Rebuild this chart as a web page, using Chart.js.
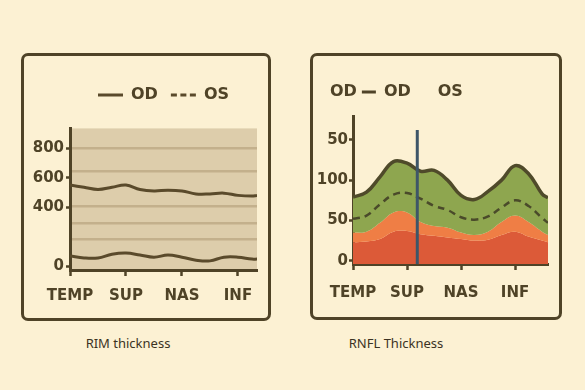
<!DOCTYPE html>
<html>
<head>
<meta charset="utf-8">
<script src="https://cdn.jsdelivr.net/npm/chart.js@4/dist/chart.umd.min.js"></script>
<style>
  html, body { margin: 0; padding: 0; background: #fcf1d3; }
  body { width: 585px; height: 390px; position: relative; overflow: hidden; }
  .panel { position: absolute; box-sizing: border-box; border: 3px solid #4f4327; border-radius: 7px; }
  .wrap { position: absolute; }
  .caption { position: absolute; font-family: "Noto Sans", sans-serif; font-size: 13px; color: #3b3323; transform: translateX(-50%); white-space: nowrap; }
</style>
</head>
<body>
<div class="panel" style="left:21px;top:53px;width:250px;height:268px"></div>
<div class="panel" style="left:310px;top:53px;width:252px;height:267px"></div>
<div class="wrap" style="left:22px;top:53px;width:280px;height:267px"><canvas id="rimChart"></canvas></div>
<div class="wrap" style="left:303px;top:53px;width:259px;height:267px"><canvas id="rnflChart"></canvas></div>
<div class="caption" style="left:128px;top:334px">RIM thickness</div>
<div class="caption" style="left:396px;top:334px">RNFL Thickness</div>

<script>
// --- Data
const sectors = ["TEMP", "SUP", "NAS", "INF"];

// RIM thickness (left)
const rimX = [0, 0.25, 0.5, 0.75, 1, 1.25, 1.5, 1.75, 2, 2.25, 2.5, 2.75, 3, 3.25, 3.34];
const rimOD = [550, 535, 520, 535, 550, 520, 510, 515, 510, 490, 490, 495, 480, 475, 480];
const rimOS = [68, 55, 55, 80, 88, 75, 60, 75, 60, 40, 35, 60, 60, 47, 47];
const rimTicks = [0, 400, 600, 800];

// RNFL thickness (right)
const rnflX = [0, 0.25, 0.5, 0.75, 1, 1.25, 1.5, 1.75, 2, 2.25, 2.5, 2.75, 3, 3.25, 3.5, 3.61];
const rnflOD = [79, 85, 104, 123, 121, 111, 112, 100, 81, 76, 86, 100, 118, 108, 83, 78];
const rnflOS = [52, 56, 70, 82, 84, 77, 68, 63, 54, 51, 55, 66, 75, 68, 53, 47];
const rnflMid = [35, 36, 47, 60, 60, 48, 43, 41, 35, 32, 36, 48, 56, 48, 36, 32];
const rnflLow = [23, 24, 27, 36, 37, 33, 31, 29, 27, 25, 26, 32, 36, 30, 25, 23];
const rnflTicks = [0, 50, 100, 150];
const rnflTickLabels = ["0", "50", "100", "50"];
const markerX = 1.19;
const markerY = [-4, 162];

const DARK = "#4f4327";
const FONT = "DejaVu Sans";

const pts = (xs, ys) => xs.map((x, i) => ({ x, y: ys[i] }));

// tan plot background
const plotBg = {
  id: "plotBg",
  beforeDraw(chart, args, opts) {
    if (!opts.color) return;
    const { ctx, chartArea: a } = chart;
    ctx.save();
    ctx.fillStyle = opts.color;
    ctx.fillRect(a.left, a.top, a.right - a.left, a.bottom - a.top);
    ctx.restore();
  }
};
Chart.register(plotBg);

function xAxis(max, pad, h) {
  return {
    type: "linear", min: 0, max: max,
    afterBuildTicks: s => { s.ticks = sectors.map((_, i) => ({ value: i })); },
    afterFit: s => { s.height = h; },
    ticks: {
      color: DARK, padding: pad, maxRotation: 0, autoSkip: false,
      font: { family: FONT, size: 15, weight: "bold" },
      callback: v => sectors[v]
    },
    grid: { drawOnChartArea: false, color: DARK, tickLength: 6, tickWidth: 2.5 },
    border: { color: DARK, width: 3 }
  };
}

// empty subtitle used as a gap between legend and plot
function spacer(h) {
  return { display: true, text: "", weight: 500, font: { size: 2 }, padding: { top: 0, bottom: h } };
}

// ------------------------------------------
// RIM THICKNESS
// ------------------------------------------
new Chart(document.getElementById("rimChart"), {
  type: "line",
  data: {
    datasets: [
      { label: "OD", data: pts(rimX, rimOD), borderColor: "#5a4a2b", borderWidth: 3, tension: 0.4, pointRadius: 0, fill: false },
      { label: "OS", data: pts(rimX, rimOS), borderColor: "#5a4a2b", borderWidth: 3, tension: 0.4, pointRadius: 0, fill: false }
    ]
  },
  options: {
    responsive: true, maintainAspectRatio: false, animation: false,
    layout: { padding: { top: 21, right: 45, bottom: 10, left: 0 } },
    plugins: {
      plotBg: { color: "#ddcdab" },
      tooltip: { enabled: false },
      subtitle: spacer(13),
      legend: {
        fullSize: false,
        labels: {
          color: DARK, padding: 13, usePointStyle: true, pointStyleWidth: 25,
          font: { family: FONT, size: 16, weight: "bold" },
          generateLabels: () => [
            { text: "OD", pointStyle: "line", strokeStyle: "#5a4a2b", fillStyle: "transparent", lineWidth: 3, lineDash: [], datasetIndex: 0, fontColor: DARK },
            { text: "OS", pointStyle: "line", strokeStyle: "#5a4a2b", fillStyle: "transparent", lineWidth: 3, lineDash: [6, 3.5], datasetIndex: 1, fontColor: DARK }
          ]
        }
      }
    },
    scales: {
      x: xAxis(3.34, 11, 40),
      yGrid: {
        type: "linear", position: "left", min: -27, max: 935,
        afterBuildTicks: s => { s.ticks = [185, 290, 405, 645, 800].map(v => ({ value: v })); },
        afterFit: s => { s.width = 0; },
        ticks: { display: false },
        grid: { color: "#c3b08c", lineWidth: 2.5, drawTicks: false },
        border: { display: false }
      },
      y: {
        type: "linear", position: "left", min: -27, max: 935,
        afterBuildTicks: s => { s.ticks = rimTicks.map(v => ({ value: v })); },
        afterFit: s => { s.width = 48; },
        ticks: { color: DARK, padding: 2, font: { family: FONT, size: 15, weight: "bold" } },
        grid: { drawOnChartArea: false, color: DARK, tickLength: 4, tickWidth: 2.5 },
        border: { color: DARK, width: 3 }
      }
    }
  }
});

// ------------------------------------------
// RNFL THICKNESS
// ------------------------------------------
new Chart(document.getElementById("rnflChart"), {
  type: "line",
  data: {
    datasets: [
      { label: "low", data: pts(rnflX, rnflLow), order: 4, borderWidth: 0, backgroundColor: "#dc5a38", fill: "start", tension: 0.4, pointRadius: 0 },
      { label: "mid", data: pts(rnflX, rnflMid), order: 3, borderWidth: 0, backgroundColor: "#ef7e45", fill: "-1", tension: 0.4, pointRadius: 0 },
      { label: "OD", data: pts(rnflX, rnflOD), order: 2, borderColor: "#4f4a2a", borderWidth: 3.5, backgroundColor: "#8ea64f", fill: "-1", tension: 0.4, pointRadius: 0 },
      { label: "OS", data: pts(rnflX, rnflOS), order: 1, borderColor: "#4a4a2a", borderWidth: 2.5, borderDash: [7, 5], fill: false, tension: 0.4, pointRadius: 0 },
      { label: "marker", data: markerY.map(y => ({ x: markerX, y })), order: 0, borderColor: "#3e5668", borderWidth: 3, fill: false, pointRadius: 0 }
    ]
  },
  options: {
    responsive: true, maintainAspectRatio: false, animation: false,
    layout: { padding: { top: 26, right: 14, bottom: 10, left: 0 } },
    plugins: {
      tooltip: { enabled: false },
      subtitle: spacer(4),
      legend: {
        align: "start",
        labels: {
          color: DARK, padding: 5, usePointStyle: true, pointStyleWidth: 14,
          font: { family: FONT, size: 16, weight: "bold" },
          generateLabels: () => [
            { text: "OD", pointStyle: "line", strokeStyle: "transparent", fillStyle: "transparent", lineWidth: 0, fontColor: DARK },
            { text: "OD", pointStyle: "line", strokeStyle: DARK, fillStyle: "transparent", lineWidth: 3, datasetIndex: 2, fontColor: DARK },
            { text: "OS", pointStyle: "line", strokeStyle: "transparent", fillStyle: "transparent", lineWidth: 0, fontColor: DARK }
          ]
        }
      }
    },
    scales: {
      x: xAxis(3.61, 14, 46),
      y: {
        type: "linear", min: -4, max: 179,
        afterBuildTicks: s => { s.ticks = rnflTicks.map(v => ({ value: v })); },
        afterFit: s => { s.width = 50; },
        ticks: {
          color: DARK, padding: 1, font: { family: FONT, size: 15, weight: "bold" },
          callback: v => rnflTickLabels[rnflTicks.indexOf(v)]
        },
        grid: { drawOnChartArea: false, color: DARK, tickLength: 4, tickWidth: 2.5 },
        border: { color: DARK, width: 3 }
      }
    }
  }
});
</script>
</body>
</html>
